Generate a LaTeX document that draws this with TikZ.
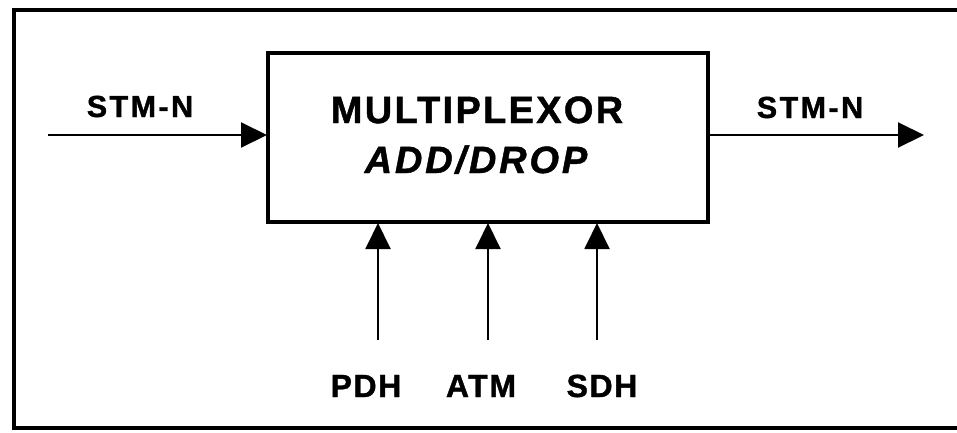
\documentclass[tikz,border=0pt]{standalone}
\usepackage{fontspec}
\setmainfont{Liberation Sans}
\newfontfamily\lblfont[LetterSpace=8, BoldFeatures={FakeBold=1.2}]{Liberation Sans}
\newfontfamily\midfont[LetterSpace=5, BoldFeatures={FakeBold=1.2}]{Liberation Sans}
\newfontfamily\tightfont[LetterSpace=6, BoldFeatures={FakeBold=1.2}]{Liberation Sans}
\newfontfamily\itfont[LetterSpace=7.5, BoldItalicFeatures={FakeBold=1.2}]{Liberation Sans}
\usetikzlibrary{arrows.meta}
\tikzset{
  frame/.style={line width=4pt},
  mux/.style={draw, line width=4pt, minimum width=440pt, minimum height=169pt, inner sep=0pt},
  sig/.style={line width=2pt, -{Triangle[length=26pt,width=25pt]}, shorten >=-1pt},
  lbl/.style={inner sep=0pt, anchor=base, font=\lblfont\bfseries\fontsize{30.5}{32}\selectfont},
  botlbl/.style={inner sep=0pt, anchor=base, font=\midfont\bfseries\fontsize{32}{33}\selectfont},
  biglbl/.style={inner sep=0pt, anchor=base, font=\tightfont\bfseries\fontsize{38}{40}\selectfont},
  itlbl/.style={inner sep=0pt, anchor=base, font=\itfont\bfseries\itshape\fontsize{38}{40}\selectfont},
}
\begin{document}
\begin{tikzpicture}[x=1pt,y=-1pt]
\useasboundingbox (0,0) rectangle (957,432);
\fill[white] (0,0) rectangle (957,432);
\draw[frame] (970,10) -- (14,10) -- (14,428) -- (970,428);
\node[mux] (box) at (488,137.5) {};
\node[biglbl] (t1) at (477,123) {MULTIPLEXOR};
\node[itlbl] (t2) at (476,173) {ADD/DROP};
\coordinate (inL) at (48,135);
\coordinate (outR) at (923,135);
\draw[sig] (inL) -- (inL -| box.west);
\draw[sig] (outR -| box.east) -- (outR);
\node[lbl] (lin) at (140,117) {STM-N};
\node[lbl] (lout) at (810,118) {STM-N};
\coordinate (p) at (378,340);
\coordinate (a) at (488,340);
\coordinate (s) at (597,340);
\draw[sig] (p) -- (p |- box.south);
\draw[sig] (a) -- (a |- box.south);
\draw[sig] (s) -- (s |- box.south);
\node[botlbl] (lp) at (366,397) {PDH};
\node[botlbl] (la) at (481,397) {ATM};
\node[botlbl] (ls) at (602,397) {SDH};
\end{tikzpicture}
\end{document}
